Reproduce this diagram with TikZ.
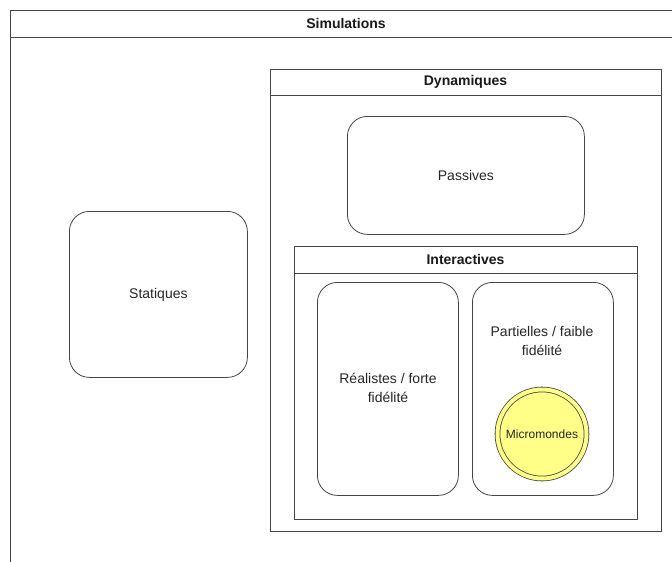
\documentclass[tikz,border=0pt]{standalone}
\usepackage{fontspec}
\setmainfont{Liberation Sans}
\definecolor{edge}{HTML}{444444}
\definecolor{yel}{HTML}{FFFF88}
\begin{document}
\begin{tikzpicture}[x=1pt,y=-1pt,
  frame/.style={draw=edge, line width=0.9pt, anchor=north west, inner sep=0pt, fill=white},
  rbox/.style={draw=edge, line width=0.8pt, rounded corners=20pt, anchor=north west, inner sep=0pt, fill=white},
  ttl/.style={font=\bfseries\fontsize{14}{16}\selectfont, text=black!90},
  lbl/.style={font=\fontsize{14}{19}\selectfont, text=black!85, align=center},
  small/.style={font=\fontsize{12}{14}\selectfont, text=black!85}]
\clip (0,0) rectangle (672,562);
\fill[white] (0,0) rectangle (672,562);
% Simulations
\node[frame, minimum width=672pt, minimum height=580pt] (sim) at (10,9.5) {};
\draw[edge, line width=0.9pt] ([yshift=-27.5pt]sim.north west) -- ([yshift=-27.5pt]sim.north east);
\node[ttl] (simt) at (346,23) {Simulations};
% Statiques
\node[rbox, minimum width=178pt, minimum height=166pt] (stat) at (69,211) {};
\node[lbl] (statt) at (stat.center) {Statiques};
% Dynamiques
\node[frame, minimum width=391pt, minimum height=462pt] (dyn) at (270,69) {};
\draw[edge, line width=0.9pt] ([yshift=-26.5pt]dyn.north west) -- ([yshift=-26.5pt]dyn.north east);
\node[ttl] (dynt) at (465.5,82) {Dynamiques};
% Passives
\node[rbox, minimum width=237pt, minimum height=118pt] (pas) at (347,116) {};
\node[lbl] (past) at (pas.center) {Passives};
% Interactives
\node[frame, minimum width=343pt, minimum height=273pt] (inter) at (294,246) {};
\draw[edge, line width=0.9pt] ([yshift=-27pt]inter.north west) -- ([yshift=-27pt]inter.north east);
\node[ttl] (intert) at (465.5,259.5) {Interactives};
% Realistes
\node[rbox, minimum width=141pt, minimum height=213pt] (real) at (317,282) {};
\node[lbl] (realt) at (388,388) {Réalistes / forte\\fidélité};
% Partielles
\node[rbox, minimum width=141pt, minimum height=213pt] (part) at (472,282) {};
\node[lbl] (partt) at (542,341) {Partielles / faible\\fidélité};
% Micromondes
\node[circle, draw=edge, line width=0.8pt, double=yel, double distance=4pt, fill=yel, minimum size=89pt, inner sep=0pt] (micro) at (542,434) {};
\node[small] (microt) at (micro.center) {Micromondes};
\end{tikzpicture}
\end{document}
